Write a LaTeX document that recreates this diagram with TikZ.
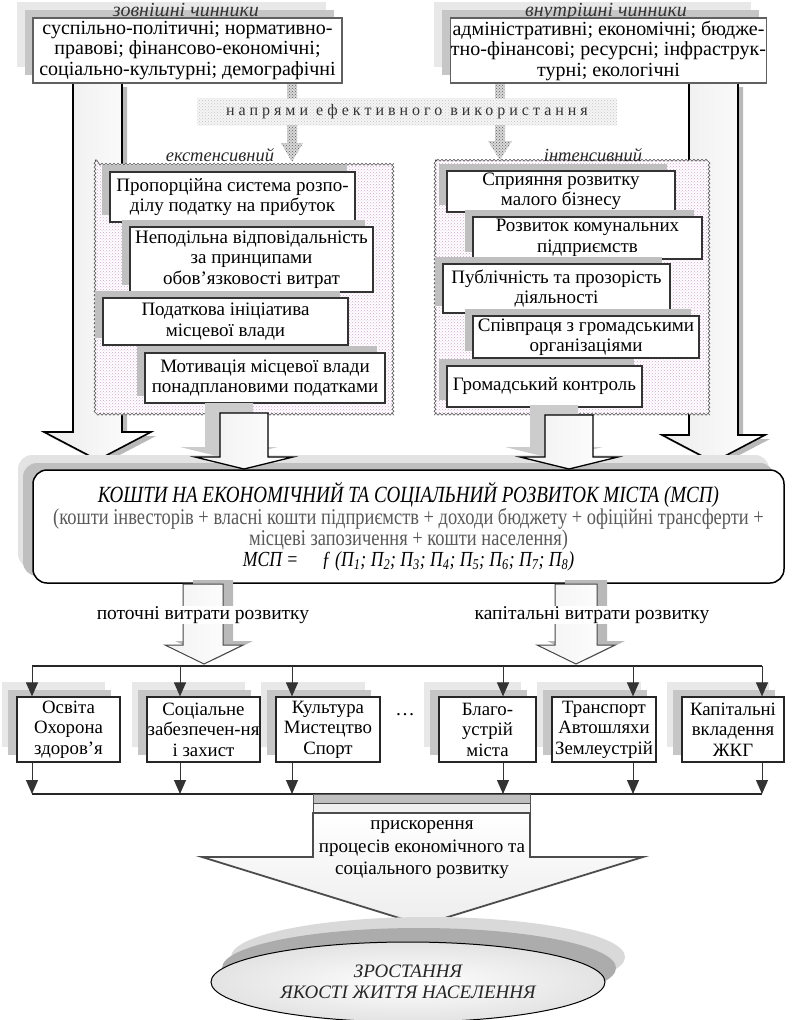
\documentclass[tikz,border=0pt]{standalone}
\usepackage{fontspec}
\setmainfont{Liberation Serif}
\newfontfamily\narrowfont[FakeStretch=0.82]{Liberation Serif}
\newfontfamily\spacedfont[LetterSpace=25]{Liberation Serif}
\usetikzlibrary{arrows.meta,shapes.geometric,shadows,patterns,decorations.pathmorphing}

\begin{document}
\begin{tikzpicture}[x=1pt,y=-1pt,
  every node/.style={font=\fontsize{19.5}{20.5}\selectfont,inner sep=0.5pt},
  factor/.style={draw=gray!75!black,line width=1.3pt,fill=white,align=center,
    font=\fontsize{20}{20.5}\selectfont,
    drop shadow={shadow xshift=-16pt,shadow yshift=16pt,fill=gray!18,opacity=1},
    drop shadow={shadow xshift=-8pt,shadow yshift=8pt,fill=gray!45,opacity=1}},
  factorlabel/.style={font=\fontsize{20}{21}\selectfont\itshape,text=gray!40!black,anchor=base},
  measure/.style={draw=black!80,line width=1.2pt,fill=white,align=center,
    font=\fontsize{19}{20.5}\selectfont,
    drop shadow={shadow xshift=-8pt,shadow yshift=7pt,fill=gray!50,opacity=1}},
  group/.style={draw=gray!60!black,line width=0.6pt,decorate,
    decoration={snake,amplitude=1pt,segment length=4pt},
    preaction={fill=white},pattern=crosshatch dots,pattern color=violet!35},
  grouplabel/.style={font=\fontsize{18.5}{20}\selectfont\itshape,text=black!85,anchor=south},
  band/.style={preaction={fill=gray!8},pattern=crosshatch dots,pattern color=gray!45},
  hatch/.style={preaction={fill=gray!30},pattern=crosshatch dots,pattern color=gray!70!black},
  bigarrow/.style={draw=black,line width=1.6pt,left color=gray!15,right color=white},
  midarrow/.style={draw=black,line width=1.3pt,left color=gray!12,right color=white},
  lowarrow/.style={draw=gray!55!black,line width=1pt,left color=gray!10,right color=white},
  arrowshade/.style={fill=gray!55},
  mainbox/.style={draw=black,line width=1.5pt,rounded corners=14pt,fill=white,align=center,
    drop shadow={shadow xshift=-15pt,shadow yshift=15pt,fill=gray!22,opacity=1},
    drop shadow={shadow xshift=-10pt,shadow yshift=7pt,fill=gray!50,opacity=1}},
  branch/.style={draw=black!85,line width=1.2pt,fill=white,align=center,
    minimum height=65pt,font=\fontsize{18.8}{20.5}\selectfont,
    drop shadow={shadow xshift=-15pt,shadow yshift=15pt,fill=gray!18,opacity=1},
    drop shadow={shadow xshift=-9pt,shadow yshift=7pt,fill=gray!45,opacity=1}},
  busline/.style={draw=black!85,line width=1.2pt},
  busarrow/.style={-{Triangle[width=12pt,length=14pt]},draw=black!80,line width=1pt}
]
\useasboundingbox (0,0) rectangle (794,1020);

\fill[band] (197,98) rectangle (617,125);
\node (ways) at (407,112) [font={\spacedfont\fontsize{16}{18}\selectfont},text=black!80]
  {напрями ефективного використання};
\fill[hatch] (287,83) rectangle (297,98);
\fill[hatch] (495,83) rectangle (505,98);
\fill[hatch] (287,125) -- (297,125) -- (297,143) -- (303,143) -- (292,162) -- (281,143) -- (287,143) -- cycle;
\fill[hatch] (495,125) -- (505,125) -- (505,141) -- (512,141) -- (500,160) -- (488,141) -- (495,141) -- cycle;

\fill[arrowshade,shift={(5,4)}] (73,83) -- (122,83) -- (122,432) -- (151,432) -- (97.5,460) -- (44,432) -- (73,432) -- cycle;
\draw[bigarrow] (73,83) -- (122,83) -- (122,432) -- (151,432) -- (97.5,460) -- (44,432) -- (73,432) -- cycle;
\fill[arrowshade,shift={(5,4)}] (689,83) -- (738,83) -- (738,435) -- (765,435) -- (713.5,462) -- (662,435) -- (689,435) -- cycle;
\draw[bigarrow] (689,83) -- (738,83) -- (738,435) -- (765,435) -- (713.5,462) -- (662,435) -- (689,435) -- cycle;

\node[factor,minimum width=309pt,minimum height=65pt] (outer) at (187.5,50.5)
  {суспільно-політичні; нормативно-\\правові; фінансово-економічні;\\соціально-культурні; демографічні};
\node[factor,minimum width=309pt,minimum height=65pt] (inner) at (608.5,50.5)
  {адміністративні; економічні; бюдже-\\тно-фінансові; ресурсні; інфраструк-\\турні; екологічні};
\begin{scope}
\clip (0,0) rectangle (794,17.5);
\node[factorlabel] (outerlabel) at (186,16.5) {зовнішні чинники};
\node[factorlabel] (innerlabel) at (606,16.5) {внутрішні чинники};
\end{scope}

\draw[group] (95,160) rectangle (392,413);
\node[grouplabel] (ext) at (220,162) {екстенсивний};
\draw[group] (435,160) rectangle (710,415);
\node[grouplabel] (int) at (593,162) {інтенсивний};

\node[measure,minimum width=245pt,minimum height=50pt] (ext1) at (232.5,197)
  {Пропорційна система розпо-\\ділу податку на прибуток};
\node[measure,minimum width=243pt,minimum height=65pt] (ext2) at (251.5,259.5)
  {Неподільна відповідальність\\за принципами\\обов’язковості витрат};
\node[measure,minimum width=245pt,minimum height=47pt] (ext3) at (225.5,321.5)
  {Податкова ініціатива\\місцевої влади};
\node[measure,minimum width=240pt,minimum height=50pt] (ext4) at (265,378)
  {Мотивація місцевої влади\\понадплановими податками};

\node[measure,minimum width=228pt,minimum height=41pt] (int1) at (561,191.5)
  {Сприяння розвитку\\малого бізнесу};
\node[measure,minimum width=229pt,minimum height=42pt] (int2) at (587.5,238)
  {Розвиток комунальних\\підприємств};
\node[measure,minimum width=227pt,minimum height=49pt] (int3) at (556.5,288.5)
  {Публічність та прозорість\\діяльності};
\node[measure,minimum width=226pt,minimum height=42pt] (int4) at (586,337)
  {Співпраця з громадськими\\організаціями};
\node[measure,minimum width=195pt,minimum height=41pt] (int5) at (544.5,386.5)
  {Громадський контроль};

\node[mainbox,minimum width=751pt,minimum height=113pt,
  font={\narrowfont\fontsize{22.5}{21}\selectfont}] (funds) at (408.5,526.5)
  {{\fontsize{23.2}{21}\selectfont\itshape КОШТИ НА ЕКОНОМІЧНИЙ ТА СОЦІАЛЬНИЙ РОЗВИТОК МІСТА (МСП)}\\
   {\color{gray!70!black}(кошти інвесторів + власні кошти підприємств + доходи бюджету + офіційні трансферти +}\\
   {\color{gray!70!black}місцеві запозичення + кошти населення)}\\
   {\fontsize{21.5}{21}\selectfont\itshape МСП =\hspace{1.1em}ƒ (П\textsubscript{1}; П\textsubscript{2}; П\textsubscript{3}; П\textsubscript{4}; П\textsubscript{5}; П\textsubscript{6}; П\textsubscript{7}; П\textsubscript{8})}};

\fill[arrowshade,fill=gray!40,shift={(-15,-10)}] (220,413) -- (268,413) -- (268,457) -- (293,457) -- (244,469) -- (195,457) -- (220,457) -- cycle;
\draw[midarrow] (220,413) -- (268,413) -- (268,457) -- (293,457) -- (244,469) -- (195,457) -- (220,457) -- cycle;
\fill[arrowshade,fill=gray!40,shift={(-15,-10)}] (545,415) -- (593,415) -- (593,457) -- (618,457) -- (569,469) -- (520,457) -- (545,457) -- cycle;
\draw[midarrow] (545,415) -- (593,415) -- (593,457) -- (618,457) -- (569,469) -- (520,457) -- (545,457) -- cycle;

\fill[arrowshade,shift={(10,-4)}] (183,584) -- (223,584) -- (223,645) -- (243,645) -- (204,664) -- (165,645) -- (183,645) -- cycle;
\draw[lowarrow] (183,584) -- (223,584) -- (223,645) -- (243,645) -- (204,664) -- (165,645) -- (183,645) -- cycle;
\fill[arrowshade,shift={(10,-4)}] (555,584) -- (597,584) -- (597,645) -- (615,645) -- (576,664) -- (537,645) -- (555,645) -- cycle;
\draw[lowarrow] (555,584) -- (597,584) -- (597,645) -- (615,645) -- (576,664) -- (537,645) -- (555,645) -- cycle;
\node[fill=white] (current) at (203,615) {поточні витрати розвитку};
\node[fill=white] (capital) at (592,615) {капітальні витрати розвитку};

\node[branch,minimum width=103pt] (b1) at (68.5,729.5) {Освіта\\Охорона\\здоров’я};
\node[branch,minimum width=113pt] (b2) at (203.5,729.5) {Соціальне\\забезпечен-ня\\і захист};
\node[branch,minimum width=104pt] (b3) at (328,729.5) {Культура\\Мистецтво\\Спорт};
\node (dots) at (405,715) {…};
\node[branch,minimum width=97pt] (b4) at (487.5,729.5) {Благо-\\устрій\\міста};
\node[branch,minimum width=104pt] (b5) at (604,729.5) {Транспорт\\Автошляхи\\Землеустрій};
\node[branch,minimum width=102pt] (b6) at (733,729.5) {Капітальні\\вкладення\\ЖКГ};

\coordinate (t1) at (32,666);
\coordinate (t2) at (180,666);
\coordinate (t3) at (292,666);
\coordinate (t4) at (503,666);
\coordinate (t5) at (633,666);
\coordinate (t6) at (762,666);
\coordinate (u1) at (32,794);
\coordinate (u6) at (762,794);
\draw[busline] (t1) -- (t6);
\draw[busline] (u1) -- (u6);
\draw[busarrow] (t1) -- (t1 |- b1.north);
\draw[busarrow] (t2) -- (t2 |- b2.north);
\draw[busarrow] (t3) -- (t3 |- b3.north);
\draw[busarrow] (t4) -- (t4 |- b4.north);
\draw[busarrow] (t5) -- (t5 |- b5.north);
\draw[busarrow] (t6) -- (t6 |- b6.north);
\draw[busarrow] (t1 |- b1.south) -- (u1);
\draw[busarrow] (t2 |- b2.south) -- (t2 |- u1);
\draw[busarrow] (t3 |- b3.south) -- (t3 |- u1);
\draw[busarrow] (t4 |- b4.south) -- (t4 |- u1);
\draw[busarrow] (t5 |- b5.south) -- (t5 |- u1);
\draw[busarrow] (t6 |- b6.south) -- (u6);

\draw[draw=gray!70!black,fill=gray!50,line width=1pt] (313,794) rectangle (530,803);
\draw[draw=gray!60!black,fill=gray!12,line width=1pt] (313,803) rectangle (530,812);
\draw[draw=gray!60!black,line width=1.8pt,top color=white,bottom color=gray!14]
  (313,813) -- (530,813) -- (530,857) -- (643,857) -- (422,925) -- (202,857) -- (313,857) -- cycle;
\node[align=center,font=\fontsize{19}{22.5}\selectfont] (speedup) at (422,850)
  {прискорення\\процесів економічного та\\соціального розвитку};

\node[ellipse,draw=black,line width=1pt,inner color=white,outer color=gray!22,
  minimum width=394pt,minimum height=80pt,align=center,
  font=\fontsize{19}{20.5}\selectfont\itshape,text=gray!30!black,
  drop shadow={shadow xshift=20pt,shadow yshift=25pt,fill=gray!30,opacity=1},
  drop shadow={shadow xshift=11pt,shadow yshift=14pt,fill=gray!65,opacity=1}] (goal) at (408,982)
  {ЗРОСТАННЯ\\ЯКОСТІ ЖИТТЯ НАСЕЛЕННЯ};
\end{tikzpicture}
\end{document}
